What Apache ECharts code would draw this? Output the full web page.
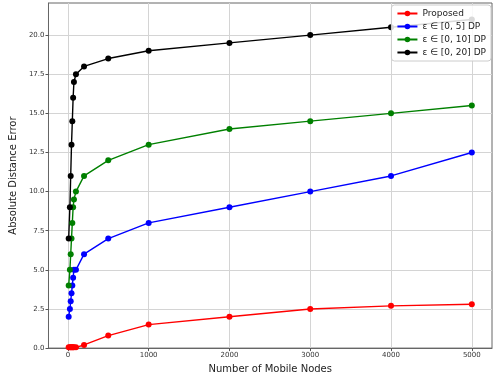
<!DOCTYPE html>
<html>
<head>
<meta charset="utf-8">
<script src="https://cdn.jsdelivr.net/npm/echarts@6/dist/echarts.min.js"></script>
<style>html,body{margin:0;padding:0;background:#fff}#c{width:498px;height:379px}</style>
</head>
<body>
<div id="c"></div>
<script>
var nodes = [10, 25, 35, 45, 55, 65, 75, 100, 200, 500, 1000, 2000, 3000, 4000, 5000];
var proposed = [0.05, 0.05, 0.05, 0.05, 0.05, 0.05, 0.05, 0.05, 0.2, 0.8, 1.5, 2.0, 2.5, 2.7, 2.8];
var dp5 = [2.0, 2.5, 3.0, 3.5, 4.0, 4.5, 5.0, 5.0, 6.0, 7.0, 8.0, 9.0, 10.0, 11.0, 12.5];
var dp10 = [4.0, 5.0, 6.0, 7.0, 8.0, 9.0, 9.5, 10.0, 11.0, 12.0, 13.0, 14.0, 14.5, 15.0, 15.5];
var dp20 = [7.0, 9.0, 11.0, 13.0, 14.5, 16.0, 17.0, 17.5, 18.0, 18.5, 19.0, 19.5, 20.0, 20.5, 21.0];
var xTicks = [0, 1000, 2000, 3000, 4000, 5000];
var yTicks = [0, 2.5, 5, 7.5, 10, 12.5, 15, 17.5, 20];
var names = ['Proposed', 'ε ∈ [0, 5] DP', 'ε ∈ [0, 10] DP', 'ε ∈ [0, 20] DP'];
var colors = ['#ff0000', '#0000ff', '#008000', '#000000'];
var sets = [proposed, dp5, dp10, dp20];

function pairs(ys) { return nodes.map(function (x, i) { return [x, ys[i]]; }); }

var chart = echarts.init(document.getElementById('c'), null, {renderer: 'canvas'});
chart.setOption({
  animation: false,
  grid: {left: 35, right: 6, top: 3, bottom: 25, containLabel: false,
    show: true, borderColor: '#666', borderWidth: 1, backgroundColor: 'transparent'},
  xAxis: {
    type: 'value', min: -240, max: 5250,
    name: 'Number of Mobile Nodes', nameLocation: 'middle', nameGap: 12,
    nameTextStyle: {fontSize: 10, color: '#222', fontFamily: 'DejaVu Sans'},
    axisLine: {show: true, onZero: false, lineStyle: {color: '#666', width: 1}},
    axisTick: {show: true, customValues: xTicks, length: 3, lineStyle: {color: '#555'}},
    axisLabel: {customValues: xTicks, fontSize: 7, color: '#333', margin: 4, fontFamily: 'DejaVu Sans',
      formatter: function (v) { return String(v); }},
    splitLine: {show: true, customValues: xTicks, lineStyle: {color: '#d4d4d4', width: 1}}
  },
  yAxis: {
    type: 'value', min: 0, max: 22.05,
    name: 'Absolute Distance Error', nameLocation: 'middle', nameGap: 24,
    nameTextStyle: {fontSize: 10, color: '#222', fontFamily: 'DejaVu Sans'},
    axisLine: {show: true, onZero: false, lineStyle: {color: '#666', width: 1}},
    axisTick: {show: true, customValues: yTicks, length: 3, lineStyle: {color: '#555'}},
    axisLabel: {customValues: yTicks, fontSize: 7, color: '#333', margin: 4, fontFamily: 'DejaVu Sans',
      formatter: function (v) { return v.toFixed(1); }},
    splitLine: {show: true, customValues: yTicks, lineStyle: {color: '#d4d4d4', width: 1}}
  },
  legend: {
    orient: 'vertical', right: 7, top: 5, itemWidth: 20, itemHeight: 7, itemGap: 4,
    backgroundColor: 'rgba(255,255,255,0.85)', borderColor: '#ccc', borderWidth: 1, borderRadius: 3,
    padding: [4, 5, 4, 5],
    textStyle: {fontSize: 9, color: '#222', fontFamily: 'DejaVu Sans'},
    data: names
  },
  series: sets.map(function (s, i) {
    return {
      name: names[i], type: 'line', data: pairs(s), color: colors[i],
      symbol: 'circle', symbolSize: 6, showSymbol: true,
      lineStyle: {width: 1.4, color: colors[i]}, itemStyle: {color: colors[i]}
    };
  })
});
</script>
</body>
</html>
